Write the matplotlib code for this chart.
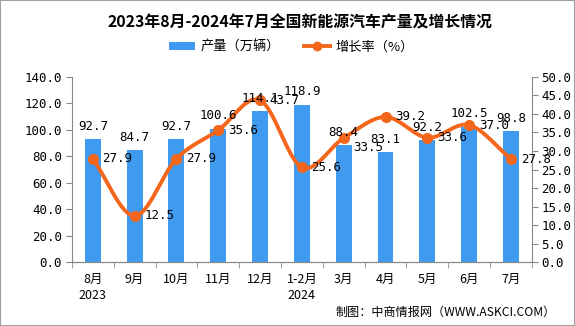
import numpy as np
import matplotlib
matplotlib.use("Agg")
import matplotlib.pyplot as plt
from matplotlib.lines import Line2D
from matplotlib.patches import Patch

plt.rcParams['font.family'] = ['Noto Sans CJK SC', 'DejaVu Sans']

categories = ["8月\n2023", "9月", "10月", "11月", "12月", "1-2月\n2024", "3月", "4月", "5月", "6月", "7月"]
production = [92.7, 84.7, 92.7, 100.6, 114.1, 118.9, 88.4, 83.1, 92.2, 102.5, 98.8]
growth = [27.9, 12.5, 27.9, 35.6, 43.7, 25.6, 33.5, 39.2, 33.6, 37.0, 27.8]

# vertical shift (points) of the growth labels as laid out in the reference
line_label_dy = [0, 0, 0, 0, 0, 0, -7, 0, 0, 0, 0]

bar_color = "#3E9BF0"
line_color = "#F4661B"
gray = "#898989"
num_font = ['DejaVu Sans Mono']

fig = plt.figure(figsize=(5.75, 3.26), dpi=100)
fig.patch.set_facecolor("white")
ax = fig.add_axes([0.125, 0.196, 0.8, 0.568])
ax2 = ax.twinx()

x = np.arange(len(categories))
ax.bar(x, production, width=0.38, color=bar_color, zorder=2)
ax.set_xlim(-0.5, len(categories) - 0.5)
ax.set_ylim(0, 140)
ax.set_yticks(np.arange(0, 141, 20))
ax.set_yticklabels([f"{v:.1f}" for v in np.arange(0, 141, 20)], fontsize=9, family=num_font)

ax.set_xticks(x)
ax.set_xticklabels(categories, fontsize=9, linespacing=1.25)
ax.set_xticks(np.arange(-0.5, len(categories), 1), minor=True)
ax.tick_params(axis='x', which='major', length=0, pad=8)
ax.tick_params(axis='x', which='minor', length=4, color=gray, direction='out')
ax.tick_params(axis='y', length=4, color=gray, direction='out', pad=3)

# smooth curve through growth points (Catmull-Rom rendering)
def catmull(xs, ys, n=30):
    px = np.concatenate([[2 * xs[0] - xs[1]], xs, [2 * xs[-1] - xs[-2]]])
    py = np.concatenate([[2 * ys[0] - ys[1]], ys, [2 * ys[-1] - ys[-2]]])
    ox, oy = [], []
    for i in range(1, len(px) - 2):
        t = np.linspace(0, 1, n, endpoint=False)
        for p, o in ((px, ox), (py, oy)):
            p0, p1, p2, p3 = p[i - 1], p[i], p[i + 1], p[i + 2]
            o.extend(0.5 * ((2 * p1) + (-p0 + p2) * t + (2 * p0 - 5 * p1 + 4 * p2 - p3) * t ** 2
                            + (-p0 + 3 * p1 - 3 * p2 + p3) * t ** 3))
    ox.append(xs[-1]); oy.append(ys[-1])
    return np.array(ox), np.array(oy)

sx, sy = catmull(x.astype(float), np.array(growth, dtype=float))
ax2.plot(sx, sy, color=line_color, lw=2.8, zorder=3, solid_capstyle='round')
ax2.plot(x, growth, 'o', color=line_color, ms=7, zorder=4)
ax2.set_ylim(0, 50)
ax2.set_yticks(np.arange(0, 51, 5))
ax2.set_yticklabels([f"{v:.1f}" for v in np.arange(0, 51, 5)], fontsize=9, family=num_font)
ax2.tick_params(axis='y', length=4, color=gray, direction='out', pad=3)

for a in (ax, ax2):
    a.spines['top'].set_visible(False)
    for s in ('left', 'right', 'bottom'):
        a.spines[s].set_color(gray)
ax2.spines['left'].set_visible(False)
ax.spines['right'].set_visible(False)

ax2.set_zorder(ax.get_zorder() + 1)
ax2.patch.set_visible(False)

for i, v in enumerate(production):
    ax2.annotate(f"{v:.1f}", xy=(i, v * 50 / 140), xytext=(0, 9.4),
                 textcoords='offset points', ha='center', va='center', fontsize=9,
                 family=num_font, zorder=6)
for i, v in enumerate(growth):
    ax2.annotate(f"{v:.1f}", xy=(i, v), xytext=(7, line_label_dy[i]),
                 textcoords='offset points', ha='left', va='center', fontsize=9,
                 family=num_font, zorder=6)

fig.text(0.522, 0.932, "2023年8月-2024年7月全国新能源汽车产量及增长情况", ha='center', va='center',
         fontsize=11.4, fontweight='bold')

handles = [Patch(facecolor=bar_color, edgecolor='none'),
           Line2D([0], [0], color=line_color, lw=2.8, marker='o', ms=6)]
fig.legend(handles, ["产量（万辆）", "增长率（%）"], loc='center', bbox_to_anchor=(0.507, 0.855),
           ncol=2, frameon=False, fontsize=9.5, handlelength=2.0, columnspacing=1.8, handletextpad=0.4,
           handleheight=0.6)

fig.text(0.967, 0.043, "制图：中商情报网（WWW.ASKCI.COM）", ha='right', va='center', fontsize=8.7)

border = plt.Rectangle((0, 0), 1, 1, transform=fig.transFigure, fill=False, edgecolor='#A0A0A0', lw=1.5)
fig.patches.append(border)

fig.savefig("out.png", dpi=100, facecolor='white')
